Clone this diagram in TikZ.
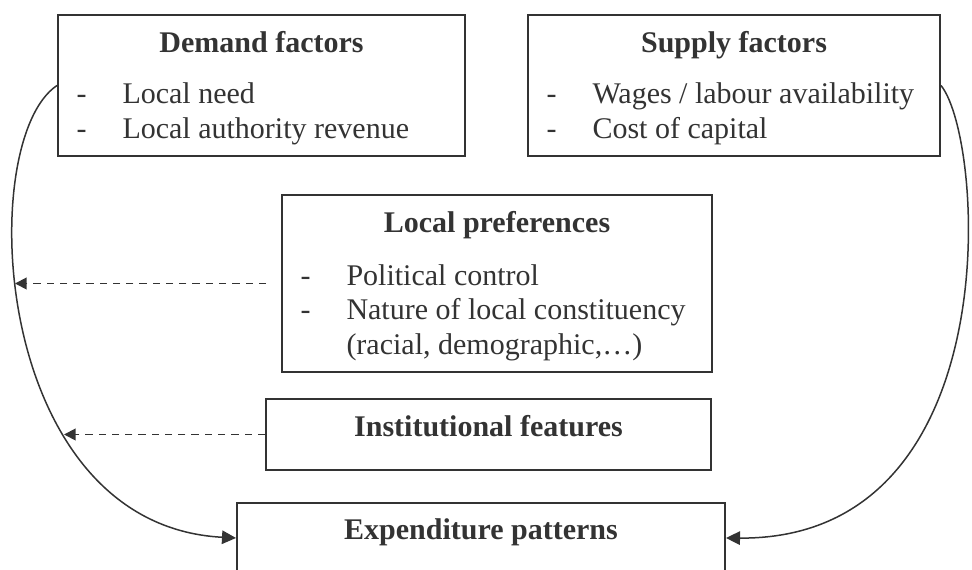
\documentclass[tikz,border=0pt]{standalone}
\usepackage{fontspec}
\setmainfont{Liberation Serif}
\usetikzlibrary{arrows.meta}

\definecolor{ink}{HTML}{333333}

\begin{document}
\begin{tikzpicture}[
  x=0.4pt, y=-0.4pt,
  box/.style={draw=ink,line width=0.8pt,rectangle,inner sep=0pt},
  head/.style={anchor=base,inner sep=0pt,text=ink,font=\fontsize{12}{14}\selectfont\bfseries},
  item/.style={anchor=base west,inner sep=0pt,text=ink,font=\fontsize{12}{14}\selectfont},
  flow/.style={draw=ink,line width=0.6pt,-{Triangle[length=5.6pt,width=5.4pt]}},
  hint/.style={draw=ink,line width=0.75pt,dash pattern=on 2.9pt off 2.4pt,-{Triangle[length=4.6pt,width=4.6pt]}}
]
  \useasboundingbox (0,0) rectangle (972,570);

  % boxes
  \node[box,minimum width=162.8pt,minimum height=56.4pt] (demand) at (261.5,85.5) {};
  \node[box,minimum width=164.8pt,minimum height=56.4pt] (supply) at (734,85.5) {};
  \node[box,minimum width=172pt,minimum height=70.8pt] (prefs) at (497,283.5) {};
  \node[box,minimum width=178pt,minimum height=28.4pt] (inst) at (488.5,434.5) {};
  \node[box,minimum width=195.2pt,minimum height=28pt] (expend) at (481,538) {};

  % headings
  \node[head] (demandhd) at (261.5,53) {Demand factors};
  \node[head] (supplyhd) at (734,53) {Supply factors};
  \node[head] (prefshd) at (497,233) {Local preferences};
  \node[head] (insthd) at (488.5,437) {Institutional features};
  \node[head] (expendhd) at (481,540) {Expenditure patterns};

  % demand list
  \node[item] (demanddash1) at (76,104) {-};
  \node[item] (demanditem1) at (122,104) {Local need};
  \node[item] (demanddash2) at (76,139) {-};
  \node[item] (demanditem2) at (122,139) {Local authority revenue};

  % supply list
  \node[item] (supplydash1) at (546,104) {-};
  \node[item] (supplyitem1) at (592,104) {Wages / labour availability};
  \node[item] (supplydash2) at (546,139) {-};
  \node[item] (supplyitem2) at (592,139) {Cost of capital};

  % preference list
  \node[item] (prefsdash1) at (300,286) {-};
  \node[item] (prefsitem1) at (346,286) {Political control};
  \node[item] (prefsdash2) at (300,320) {-};
  \node[item] (prefsitem2) at (346,320) {Nature of local constituency};
  \node[item] (prefsitem3) at (346,355) {(racial, demographic,\ldots)};

  % where the dashed arrows meet the left curve
  \coordinate (prefsend) at (15,283.5);
  \coordinate (instend) at (64,434.5);

  % main flows
  \draw[flow] (demand.west) .. controls (-25,140) and (-10,525) .. (expend.west);
  \draw[flow] (supply.east) .. controls (985,140) and (1010,540) .. (expend.east);

  % dashed influences
  \draw[hint,shorten <=6pt] (prefs.west) -- (prefsend);
  \draw[hint] (inst.west) -- (instend);

\end{tikzpicture}
\end{document}
